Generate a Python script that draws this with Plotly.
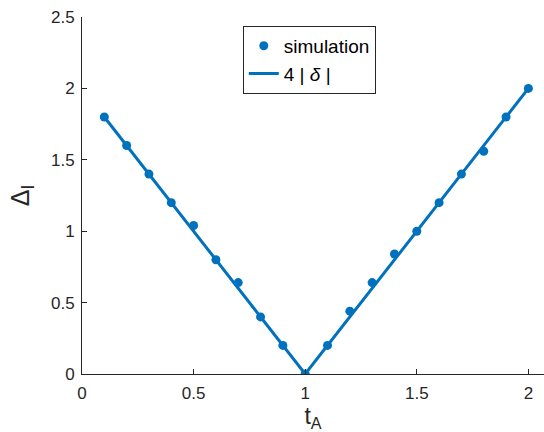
import plotly.graph_objects as go

# simulated gap values
t_sim = [0.1, 0.2, 0.3, 0.4, 0.5, 0.6, 0.7, 0.8, 0.9, 1.0,
         1.1, 1.2, 1.3, 1.4, 1.5, 1.6, 1.7, 1.8, 1.9, 2.0]
gap_sim = [1.80, 1.60, 1.40, 1.20, 1.04, 0.80, 0.64, 0.40, 0.20, 0.0,
           0.20, 0.44, 0.64, 0.84, 1.00, 1.20, 1.40, 1.56, 1.80, 2.00]

# analytic curve 4|delta|
t_theory = [0.1, 1.0, 2.0]
gap_theory = [1.8, 0.0, 2.0]

x_ticks = [0, 0.5, 1, 1.5, 2]
x_tick_text = ["0", "0.5", "1", "1.5", "2"]
y_ticks = [0, 0.5, 1, 1.5, 2, 2.5]
y_tick_text = ["0", "0.5", "1", "1.5", "2", "2.5"]

blue = "#0072BD"
ink = "#262626"
font = "Liberation Sans, Arial, sans-serif"

fig = go.Figure()
fig.add_trace(go.Scatter(
    x=t_sim, y=gap_sim, mode="markers", name="simulation",
    marker=dict(color=blue, size=9),
))
fig.add_trace(go.Scatter(
    x=t_theory, y=gap_theory, mode="lines", name="4 | <i>δ</i> |",
    line=dict(color=blue, width=3),
))

axis_common = dict(
    showline=True, linecolor=ink, linewidth=1, mirror=False,
    ticks="inside", ticklen=5, tickcolor=ink, tickwidth=1,
    showgrid=False, zeroline=False,
    tickfont=dict(family=font, size=17, color=ink),
)

fig.update_layout(
    width=544, height=432,
    margin=dict(l=82, r=0, t=17, b=58),
    paper_bgcolor="white", plot_bgcolor="white",
    font=dict(family=font, color=ink),
    showlegend=True,
    legend=dict(
        x=0.348, y=0.975, xanchor="left", yanchor="top",
        bgcolor="white", bordercolor=ink, borderwidth=1,
        font=dict(family=font, size=19, color="black"),
        tracegroupgap=0, itemwidth=30,
    ),
    xaxis=dict(
        range=[0, 2.07], tickvals=x_ticks, ticktext=x_tick_text,
        ticklabelstandoff=4, automargin=False,
        title=dict(text="t<sub>A</sub>", font=dict(family=font, size=23, color=ink)),
        **axis_common,
    ),
    yaxis=dict(
        range=[0, 2.5], tickvals=y_ticks, ticktext=y_tick_text,
        ticklabelstandoff=3,
        title=dict(text="Δ<sub>I</sub>", font=dict(family=font, size=25, color=ink), standoff=14),
        **axis_common,
    ),
)

fig.write_html("out.html")
